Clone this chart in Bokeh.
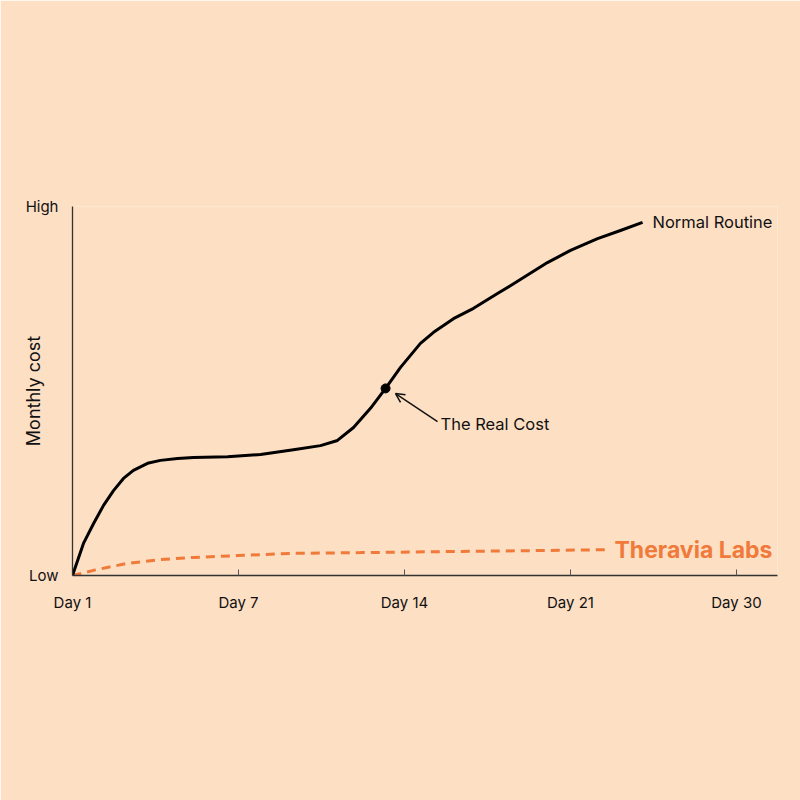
from bokeh.plotting import figure
from bokeh.models import Label, Arrow, OpenHead, FixedTicker, Range1d
from bokeh.embed import file_html
from bokeh.resources import INLINE

# tick positions / labels
tick_pos = [0, 1, 2, 3, 4]
tick_labels = ["Day 1", "Day 7", "Day 14", "Day 21", "Day 30"]

# Normal Routine curve (x in tick units, y in 0..1 Low..High)
normal_x = [0.0, 0.066, 0.127, 0.187, 0.247, 0.307, 0.367, 0.452, 0.530, 0.633, 0.729,
            0.934, 1.133, 1.331, 1.494, 1.596, 1.693, 1.795, 1.886, 1.976, 2.096, 2.175,
            2.295, 2.416, 2.560, 2.669, 2.861, 3.000, 3.163, 3.301, 3.434]
normal_y = [0.0, 0.087, 0.141, 0.190, 0.230, 0.263, 0.285, 0.304, 0.312, 0.317, 0.320,
            0.322, 0.328, 0.341, 0.352, 0.366, 0.401, 0.453, 0.507, 0.564, 0.629, 0.659,
            0.696, 0.724, 0.764, 0.794, 0.848, 0.881, 0.913, 0.935, 0.957]

# Theravia Labs curve
thera_x = [0.0, 0.127, 0.331, 0.530, 0.729, 0.994, 1.331, 1.735, 2.277, 2.880, 3.223]
thera_y = [0.0, 0.014, 0.033, 0.043, 0.049, 0.054, 0.060, 0.062, 0.065, 0.068, 0.070]

real_cost_x = 1.886
real_cost_y = 0.507

BG = "#FDDFC4"
ORANGE = "#F07A3A"
FONT = "Inter"

p = figure(width=800, height=800, output_backend="svg", toolbar_location=None,
           x_range=Range1d(0, 4.247), y_range=Range1d(0, 1),
           min_border_left=72, min_border_right=23, min_border_top=206, min_border_bottom=225)
p.background_fill_color = BG
p.border_fill_color = BG
p.outline_line_color = None
p.grid.visible = False

# x axis
xa = p.xaxis[0]
xa.ticker = FixedTicker(ticks=tick_pos)
xa.major_label_overrides = {t: l for t, l in zip(tick_pos, tick_labels)}
xa.major_tick_in = 6
xa.major_tick_out = 0
xa.minor_tick_line_color = None
xa.axis_line_color = "#333333"
xa.axis_line_width = 1.3
xa.major_tick_line_color = "#555555"
xa.major_label_standoff = 17
xa.major_label_text_font = FONT
xa.major_label_text_font_size = "15px"
xa.major_label_text_color = "#111111"

# y axis
ya = p.yaxis[0]
ya.ticker = FixedTicker(ticks=[0, 1])
ya.major_label_overrides = {0: "Low", 1: "High"}
ya.major_tick_in = 0
ya.major_tick_out = 0
ya.minor_tick_line_color = None
ya.axis_line_color = "#333333"
ya.axis_line_width = 1.3
ya.major_label_standoff = 14
ya.major_label_text_font = FONT
ya.major_label_text_font_size = "15px"
ya.major_label_text_color = "#111111"
ya.axis_label = "Monthly cost"
ya.axis_label_text_font = FONT
ya.axis_label_text_font_size = "18px"
ya.axis_label_text_font_style = "normal"
ya.axis_label_text_color = "#111111"
ya.axis_label_standoff = -21

# curves
p.line(thera_x, thera_y, line_color=ORANGE, line_width=3, line_dash="9 6")
p.line(normal_x, normal_y, line_color="#000000", line_width=3, line_join="round")
p.scatter([real_cost_x], [real_cost_y], size=9, color="#000000")

# arrow
p.add_layout(Arrow(end=OpenHead(size=9, line_width=1.5, line_color="#111111"),
                   x_start=2.199, y_start=0.417, x_end=1.946, y_end=0.493,
                   line_width=1.5, line_color="#111111"))

p.add_layout(Label(x=2.217, y=0.410, text="The Real Cost", text_font=FONT,
                   text_font_size="16.5px", text_color="#111111", text_baseline="middle"))
p.add_layout(Label(x=3.494, y=0.959, text="Normal Routine", text_font=FONT,
                   text_font_size="16.5px", text_color="#111111", text_baseline="middle"))
p.add_layout(Label(x=3.265, y=0.070, text="Theravia Labs", text_font=FONT,
                   text_font_size="23px", text_font_style="bold", text_color=ORANGE,
                   text_baseline="middle"))

open("out.html", "w").write(file_html(p, INLINE))
